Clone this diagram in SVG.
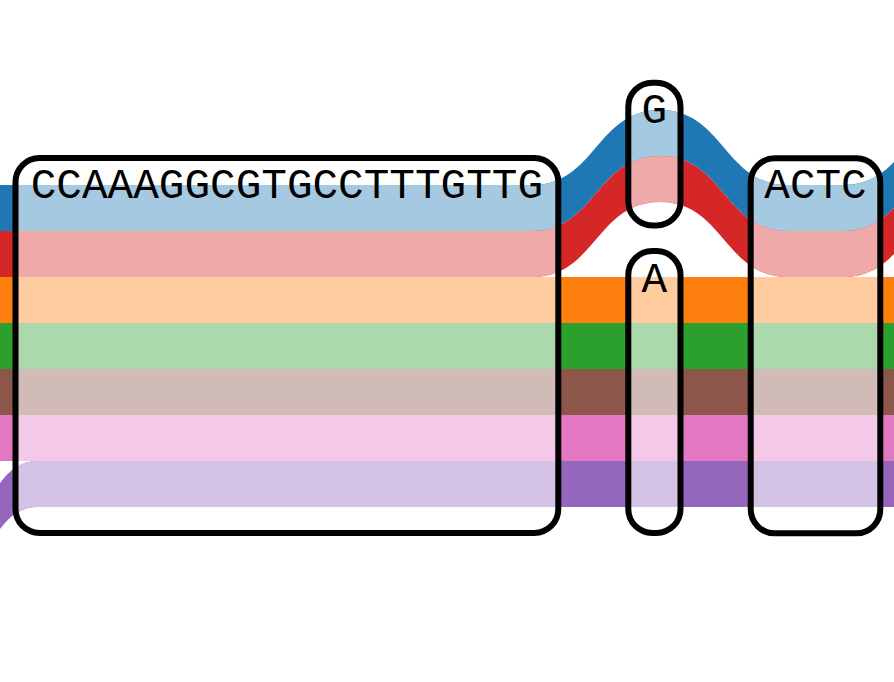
<svg xmlns="http://www.w3.org/2000/svg" width="894" height="682" viewBox="0 0 894 682">
<style>
.node{fill:none;stroke:#000;stroke-width:6}
.lbl{font-family:"Courier New","Liberation Mono",monospace;font-size:42.7px;fill:#000;text-anchor:middle}
</style>
<defs>
<path id="pBlue" d="M -10 185 L 532 185 C 596 185 596 110 660 110 C 724 110 724 185 788 185 L 843 185 C 907 185 907 110 971 110 L 971 156 C 907 156 907 231 843 231 L 788 231 C 724 231 724 156 660 156 C 596 156 596 231 532 231 L -10 231 Z"/>
<path id="pRed" d="M -10 231 L 532 231 C 596 231 596 156 660 156 C 724 156 724 231 788 231 L 843 231 C 907 231 907 156 971 156 L 971 202 C 907 202 907 277 843 277 L 788 277 C 724 277 724 202 660 202 C 596 202 596 277 532 277 L -10 277 Z"/>
<path id="pOrange" d="M -10 277 H 910 V 323 H -10 Z"/>
<path id="pGreen" d="M -10 323 H 910 V 369 H -10 Z"/>
<path id="pBrown" d="M -10 369 H 910 V 415 H -10 Z"/>
<path id="pPink" d="M -10 415 H 910 V 461 H -10 Z"/>
<path id="pPurple" d="M -91 611 C -27 611 -27 461 37 461 L 910 461 L 910 507 L 37 507 C -27 507 -27 657 -91 657 Z"/>
<clipPath id="nodeClip">
<rect x="15.5" y="158" width="542.8" height="375" rx="24"/>
<rect x="628.3" y="82.7" width="52.2" height="142.8" rx="24"/>
<rect x="628.3" y="251" width="52.2" height="282" rx="24"/>
<rect x="750.7" y="158.3" width="129.6" height="375" rx="24"/>
</clipPath>
</defs>
<g id="connectors">
<use href="#pBlue" fill="#1f77b4"/>
<use href="#pRed" fill="#d62728"/>
<use href="#pOrange" fill="#ff7f0e"/>
<use href="#pGreen" fill="#2ca02c"/>
<use href="#pBrown" fill="#8c564b"/>
<use href="#pPink" fill="#e377c2"/>
<use href="#pPurple" fill="#9467bd"/>
<g clip-path="url(#nodeClip)">
<use href="#pBlue" fill="#a5c9e1"/>
<use href="#pRed" fill="#efa9a9"/>
<use href="#pOrange" fill="#ffcc9f"/>
<use href="#pGreen" fill="#abd9ab"/>
<use href="#pBrown" fill="#d1bbb7"/>
<use href="#pPink" fill="#f4c9e7"/>
<use href="#pPurple" fill="#d4c2e5"/>
</g>
</g>
<g id="node1">
<rect class="node" x="15.5" y="158" width="542.8" height="375" rx="24"/>
<text class="lbl" x="286.9" y="198">CCAAAGGCGTGCCTTTGTTG</text>
</g>
<g id="node2">
<rect class="node" x="628.3" y="82.7" width="52.2" height="142.8" rx="24"/>
<text class="lbl" x="654.4" y="123">G</text>
</g>
<g id="node3">
<rect class="node" x="628.3" y="251" width="52.2" height="282" rx="24"/>
<text class="lbl" x="654.4" y="292">A</text>
</g>
<g id="node4">
<rect class="node" x="750.7" y="158.3" width="129.6" height="375" rx="24"/>
<text class="lbl" x="815.5" y="198">ACTC</text>
</g>
</svg>
